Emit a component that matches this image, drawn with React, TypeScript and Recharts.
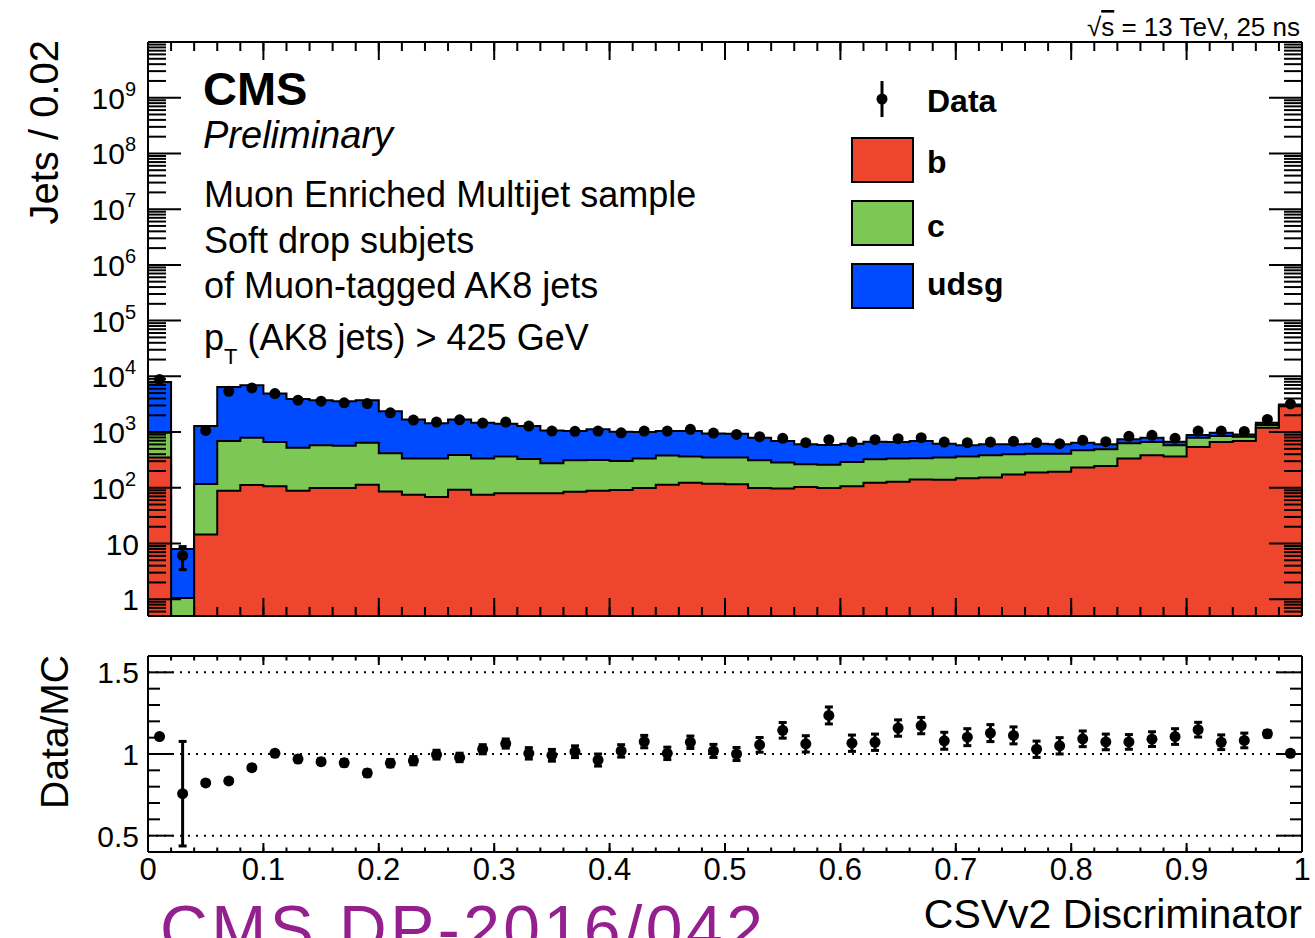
import React from 'react';
import { ComposedChart, Area, Scatter, ErrorBar, XAxis, YAxis, ReferenceLine } from 'recharts';

const FONT = '"Liberation Sans", Arial, Helvetica, sans-serif';

// CSVv2 discriminator bins (width 0.02)
const BIN_WIDTH = 0.02;
const binCenters = [
  0.01, 0.03, 0.05, 0.07, 0.09, 0.11, 0.13, 0.15, 0.17, 0.19,
  0.21, 0.23, 0.25, 0.27, 0.29, 0.31, 0.33, 0.35, 0.37, 0.39,
  0.41, 0.43, 0.45, 0.47, 0.49, 0.51, 0.53, 0.55, 0.57, 0.59,
  0.61, 0.63, 0.65, 0.67, 0.69, 0.71, 0.73, 0.75, 0.77, 0.79,
  0.81, 0.83, 0.85, 0.87, 0.89, 0.91, 0.93, 0.95, 0.97, 0.99,
];

// MC jets per bin, split by flavour
const bJets = [
  350, 0, 14.5, 88, 112, 106, 88, 99, 99, 113,
  86, 75, 68, 92, 75, 80, 80, 80, 85, 88,
  91, 99, 113, 123, 118, 116, 99, 97, 103, 99,
  107, 123, 128, 141, 139, 149, 153, 173, 188, 193,
  231, 247, 334, 383, 363, 540, 663, 691, 1195, 2911,
];
const cJets = [
  620, 1.05, 103, 602, 679, 557, 437, 479, 471, 531,
  330, 259, 266, 296, 259, 283, 250, 196, 227, 228,
  212, 235, 265, 240, 230, 232, 213, 186, 162, 159,
  184, 202, 206, 198, 209, 214, 230, 226, 222, 217,
  240, 244, 294, 277, 215, 251, 185, 134, 139, 39,
];
const udsgJets = [
  6930, 6.95, 1163, 5750, 6109, 4237, 3415, 3152, 3010, 3086,
  1954, 1346, 1106, 1292, 1136, 1047, 950, 794, 728, 804,
  707, 666, 662, 677, 599, 585, 479, 408, 338, 328,
  328, 346, 326, 352, 271, 215, 220, 204, 209, 193,
  173, 112, 112, 131, 93, 93, 124, 83, 134, 170,
];

// data jets per bin and stat. error (only visible in the low bins)
const dataJets = [
  8800, 6.1, 1070, 5400, 6180, 4900, 3730, 3580, 3340, 3250,
  2210, 1640, 1510, 1660, 1450, 1510, 1280, 1040, 1030, 1040,
  970, 1040, 1040, 1120, 960, 908, 826, 771, 644, 729,
  671, 729, 760, 791, 660, 644, 660, 681, 644, 619,
  710, 671, 837, 872, 771, 1040, 1040, 1028, 1680, 3200,
];
const dataJetsErr = [
  0, 2.7, 0, 0, 0, 0, 0, 0, 0, 0,
  0, 0, 0, 0, 0, 0, 0, 0, 0, 0,
  0, 0, 0, 0, 0, 0, 0, 0, 0, 0,
  0, 0, 0, 0, 0, 0, 0, 0, 0, 0,
  0, 0, 0, 0, 0, 0, 0, 0, 0, 0,
];

// Data/MC ratio and its error
const dataOverMc = [
  1.107, 0.757, 0.823, 0.835, 0.916, 1.004, 0.969, 0.953, 0.946, 0.883,
  0.944, 0.959, 0.996, 0.979, 1.029, 1.064, 1.004, 0.992, 1.014, 0.963,
  1.019, 1.076, 1.004, 1.072, 1.019, 1.0, 1.056, 1.145, 1.062, 1.236,
  1.066, 1.072, 1.159, 1.174, 1.081, 1.103, 1.128, 1.114, 1.029, 1.05,
  1.093, 1.074, 1.074, 1.091, 1.107, 1.149, 1.072, 1.083, 1.124, 1.004,
];
const dataOverMcErr = [
  0.012, 0.32, 0.015, 0.015, 0.015, 0.016, 0.018, 0.018, 0.019, 0.019,
  0.022, 0.025, 0.027, 0.026, 0.028, 0.028, 0.035, 0.036, 0.036, 0.037,
  0.038, 0.038, 0.038, 0.038, 0.04, 0.04, 0.045, 0.048, 0.05, 0.052,
  0.05, 0.05, 0.05, 0.05, 0.052, 0.052, 0.052, 0.052, 0.05, 0.05,
  0.048, 0.048, 0.045, 0.045, 0.048, 0.045, 0.045, 0.045, 0.02, 0.015,
];

const xMajorTicks = [0, 0.1, 0.2, 0.3, 0.4, 0.5, 0.6, 0.7, 0.8, 0.9, 1];
const xMinorTicks = Array.from({ length: 51 }, (_, i) => +(i * BIN_WIDTH).toFixed(2));
const yDecades = [1, 10, 1e2, 1e3, 1e4, 1e5, 1e6, 1e7, 1e8, 1e9];
const yMinorTicks: number[] = [];
for (let k = -1; k <= 9; k++) {
  for (let m = 2; m <= 9; m++) {
    const v = m * Math.pow(10, k);
    if (v >= 0.5 && v <= 1e10) yMinorTicks.push(v);
  }
}
const rMajorTicks = [0.5, 1, 1.5];
const rAllTicks = [0.4, 0.5, 0.6, 0.7, 0.8, 0.9, 1, 1.1, 1.2, 1.3, 1.4, 1.5, 1.6];

const Y_DOMAIN = [0.5, 1e10];
const R_DOMAIN = [0.4, 1.6];

const COLORS = { b: '#ee452f', c: '#7dc855', udsg: '#004bff' };

// shared panel geometry
const CHART_W = 1315;
const AXIS_W = 148;
const MARGIN_R = 13;
const PLOT_LEFT = AXIS_W;
const PLOT_RIGHT = CHART_W - MARGIN_R;

// histogram outline points sit on the left bin edges, last one closes at x = 1
const stackRows = binCenters.map((c, i) => ({
  x: +(c - BIN_WIDTH / 2).toFixed(2),
  b: Math.max(bJets[i], Y_DOMAIN[0]),
  bc: bJets[i] + cJets[i],
  all: bJets[i] + cJets[i] + udsgJets[i],
}));
stackRows.push({ ...stackRows[stackRows.length - 1], x: 1 });

const dataRows = binCenters.map((c, i) => ({ x: c, n: dataJets[i], err: dataJetsErr[i] }));
const ratioRows = binCenters.map((c, i) => ({ x: c, r: dataOverMc[i], err: dataOverMcErr[i] }));

const frame = { stroke: '#000', strokeWidth: 2 };
// tick-only axes need a non-zero size or they are not drawn
const THIN = 0.01;
// tick lines are dropped when tick is false, so draw an empty label instead
const NoLabel = () => <g />;

const Dot = (props: any) => <circle cx={props.cx} cy={props.cy} r={5.5} fill="#000" />;

const DecadeTick = ({ x, y, payload }: any) => {
  const v: number = payload.value;
  const power = Math.round(Math.log10(v));
  if (power < 2) {
    return (
      <text x={x} y={y + 11} textAnchor="end" fontSize={30} fontFamily={FONT} fill="#000">
        {v}
      </text>
    );
  }
  return (
    <text x={x - 3} y={y + 11} textAnchor="end" fontSize={30} fontFamily={FONT} fill="#000">
      10<tspan dy={-13} fontSize={20}>{power}</tspan>
    </text>
  );
};

// ratio axis: inward ticks on both sides, labels only on the majors
const RatioTick = ({ x, y, payload }: any) => {
  const v: number = payload.value;
  const major = rMajorTicks.includes(v);
  const len = major ? 25 : 12;
  return (
    <g>
      <line x1={PLOT_LEFT} x2={PLOT_LEFT + len} y1={y} y2={y} stroke="#000" strokeWidth={2} />
      <line x1={PLOT_RIGHT - len} x2={PLOT_RIGHT} y1={y} y2={y} stroke="#000" strokeWidth={2} />
      {major && (
        <text x={x} y={y + 11} textAnchor="end" fontSize={30} fontFamily={FONT} fill="#000">
          {v}
        </text>
      )}
    </g>
  );
};

// inward ticks on all four sides, ROOT style
function xFrameAxes(major: number, minor: number) {
  return (['bottom', 'top'] as const).flatMap((side) => [
    <XAxis key={side + 'M'} xAxisId={side + 'M'} dataKey="x" type="number" domain={[0, 1]} allowDataOverflow
      orientation={side} mirror height={THIN} ticks={xMajorTicks} interval={0} tick={NoLabel}
      tickSize={major} axisLine={frame} tickLine={frame} />,
    <XAxis key={side + 'm'} xAxisId={side + 'm'} dataKey="x" type="number" domain={[0, 1]} allowDataOverflow
      orientation={side} mirror height={THIN} ticks={xMinorTicks} interval={0} tick={NoLabel}
      tickSize={minor} axisLine={frame} tickLine={frame} />,
  ]);
}

function yLogFrameAxes() {
  return (['left', 'right'] as const).flatMap((side) => [
    <YAxis key={side + 'M'} yAxisId={side + 'M'} dataKey="all" type="number" scale="log" domain={Y_DOMAIN} allowDataOverflow
      orientation={side} mirror width={THIN} ticks={yDecades} interval={0} tick={NoLabel}
      tickSize={33} axisLine={frame} tickLine={frame} />,
    <YAxis key={side + 'm'} yAxisId={side + 'm'} dataKey="all" type="number" scale="log" domain={Y_DOMAIN} allowDataOverflow
      orientation={side} mirror width={THIN} ticks={yMinorTicks} interval={0} tick={NoLabel}
      tickSize={18} axisLine={frame} tickLine={frame} />,
  ]);
}

const HistPanel = () => (
  <ComposedChart width={CHART_W} height={640} data={stackRows}
    margin={{ top: 42, right: MARGIN_R, bottom: 24, left: 0 }} style={{ fontFamily: FONT }}>
    <XAxis xAxisId="x" dataKey="x" type="number" domain={[0, 1]} allowDataOverflow hide />
    <YAxis yAxisId="y" type="number" scale="log" domain={Y_DOMAIN} allowDataOverflow width={AXIS_W}
      ticks={yDecades} interval={0} tickLine={false} tickSize={0} tickMargin={9}
      axisLine={frame} tick={<DecadeTick />} />
    <Area xAxisId="x" yAxisId="y" type="stepAfter" dataKey="all" fill={COLORS.udsg} fillOpacity={1}
      stroke="#000" strokeWidth={2} dot={false} activeDot={false} isAnimationActive={false} />
    <Area xAxisId="x" yAxisId="y" type="stepAfter" dataKey="bc" fill={COLORS.c} fillOpacity={1}
      stroke="#000" strokeWidth={2} dot={false} activeDot={false} isAnimationActive={false} />
    <Area xAxisId="x" yAxisId="y" type="stepAfter" dataKey="b" fill={COLORS.b} fillOpacity={1}
      stroke="#000" strokeWidth={2} dot={false} activeDot={false} isAnimationActive={false} />
    {xFrameAxes(18, 9)}
    {yLogFrameAxes()}
    <Scatter xAxisId="x" yAxisId="y" data={dataRows} dataKey="n" shape={<Dot />} isAnimationActive={false}>
      <ErrorBar dataKey="err" direction="y" width={4} strokeWidth={3} stroke="#000" />
    </Scatter>
  </ComposedChart>
);

const RatioPanel = () => (
  <ComposedChart width={CHART_W} height={260} data={ratioRows}
    margin={{ top: 16, right: MARGIN_R, bottom: 0, left: 0 }} style={{ fontFamily: FONT }}>
    <XAxis xAxisId="x" dataKey="x" type="number" domain={[0, 1]} allowDataOverflow height={48}
      ticks={xMajorTicks} interval={0} tickLine={false} tickSize={0} tickMargin={6}
      axisLine={frame} tick={{ fontSize: 31, fill: '#000', fontFamily: FONT }} />
    <YAxis yAxisId="r" type="number" domain={R_DOMAIN} allowDataOverflow width={AXIS_W}
      ticks={rAllTicks} interval={0} tickLine={false} tickSize={0} tickMargin={9}
      axisLine={frame} tick={<RatioTick />} />
    <YAxis yAxisId="rr" type="number" domain={R_DOMAIN} allowDataOverflow orientation="right"
      mirror width={THIN} tick={false} tickLine={false} axisLine={frame} />
    {rMajorTicks.map((v) => (
      <ReferenceLine key={v} xAxisId="x" yAxisId="r" y={v} stroke="#000" strokeWidth={2} strokeDasharray="2 6" />
    ))}
    {xFrameAxes(9, 4.5)}
    <Scatter xAxisId="x" yAxisId="r" dataKey="r" shape={<Dot />} isAnimationActive={false}>
      <ErrorBar dataKey="err" direction="y" width={4} strokeWidth={3} stroke="#000" />
    </Scatter>
  </ComposedChart>
);

const legendBoxes = [
  { label: 'b', color: COLORS.b, top: 138, base: 173 },
  { label: 'c', color: COLORS.c, top: 201, base: 237 },
  { label: 'udsg', color: COLORS.udsg, top: 264, base: 295 },
];

const Annotations = () => (
  <svg width={CHART_W} height={938} fontFamily={FONT}
    style={{ position: 'absolute', left: 0, top: 0, pointerEvents: 'none' }}>
    <text x={1300} y={36} fontSize={26} textAnchor="end">
      √<tspan textDecoration="overline">s</tspan> = 13 TeV, 25 ns
    </text>
    <text x={203} y={105} fontSize={47} fontWeight="bold">CMS</text>
    <text x={203} y={148} fontSize={38} fontStyle="italic">Preliminary</text>
    <text x={204} y={207} fontSize={36}>Muon Enriched Multijet sample</text>
    <text x={204} y={253} fontSize={36}>Soft drop subjets</text>
    <text x={204} y={298} fontSize={36}>of Muon-tagged AK8 jets</text>
    <text x={204} y={350} fontSize={36}>
      p<tspan fontSize={22} dy={14}>T</tspan><tspan dy={-14}> (AK8 jets) &gt; 425 GeV</tspan>
    </text>

    <line x1={882} x2={882} y1={81} y2={117} stroke="#000" strokeWidth={3} />
    <circle cx={882} cy={99} r={5.5} fill="#000" />
    <text x={927} y={112} fontSize={32} fontWeight="bold">Data</text>
    {legendBoxes.map((e) => (
      <g key={e.label}>
        <rect x={852} y={e.top} width={61} height={44} fill={e.color} stroke="#000" strokeWidth={2} />
        <text x={927} y={e.base} fontSize={32} fontWeight="bold">{e.label}</text>
      </g>
    ))}

    <text transform="rotate(-90 58 40)" x={58} y={40} fontSize={40} textAnchor="end">Jets / 0.02</text>
    <text transform="rotate(-90 68 655)" x={68} y={655} fontSize={39} textAnchor="end">Data/MC</text>
    <text x={1302} y={928} fontSize={41} textAnchor="end">CSVv2 Discriminator</text>

    <text x={160} y={952} fontSize={66} fill="#941f8f" letterSpacing={3.5}>CMS DP-2016/042</text>
  </svg>
);

export default function App() {
  return (
    <div style={{ position: 'absolute', left: 0, top: 0, width: CHART_W, height: 938, background: '#fff', overflow: 'hidden' }}>
      <div style={{ position: 'absolute', left: 0, top: 0 }}>
        <HistPanel />
      </div>
      <div style={{ position: 'absolute', left: 0, top: 640 }}>
        <RatioPanel />
      </div>
      <Annotations />
    </div>
  );
}
